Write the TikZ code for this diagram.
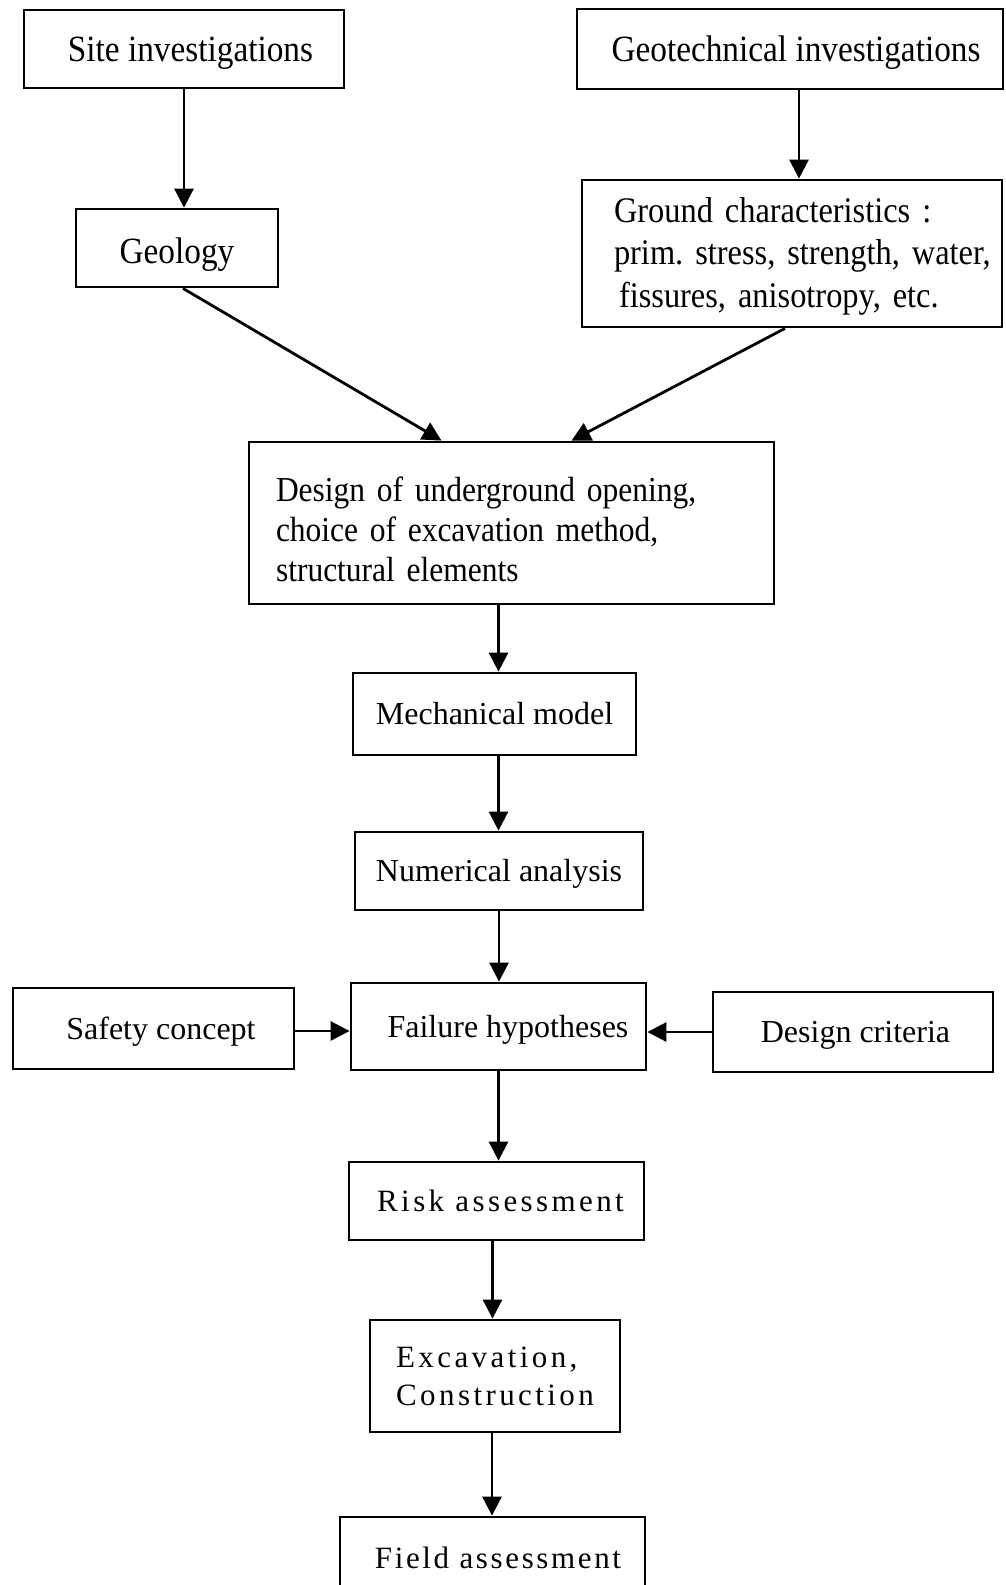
\documentclass[tikz,border=0pt]{standalone}
\usepackage{fontspec}
\setmainfont{Liberation Serif}
\newfontfamily\condfont{Liberation Serif}[FakeStretch=0.9]
\newfontfamily\spacedfont{Liberation Serif}[LetterSpace=11]
\usetikzlibrary{arrows.meta}

\tikzset{
  box/.style={draw, line width=2.8pt, inner sep=0pt, fill=white},
  oneline/.style={text height=#1, text depth=0pt},
  arr/.style={line width=2.8pt, -{Triangle[length=19pt,width=19pt]}},
  condtxt/.style={font=\condfont\fontsize{37}{44}\selectfont},
  condsmall/.style={font=\condfont\fontsize{36}{42.5}\selectfont},
  plaintxt/.style={font=\fontsize{32}{40}\selectfont},
  spacedtxt/.style={font=\spacedfont\fontsize{31}{38}\selectfont},
}

\begin{document}
\frenchspacing
\begin{tikzpicture}[x=1pt,y=-1pt]
\fill[white] (0,0) rectangle (1005,1585);
\useasboundingbox (0,0) rectangle (1005,1585);

% investigations
\node[box, condtxt, oneline=25.5pt, minimum width=320pt, minimum height=78pt]
  (site) at (184,49) {\hspace*{13pt}Site investigations};
\node[box, condtxt, oneline=25.5pt, minimum width=426pt, minimum height=80pt]
  (geo) at (790,49) {\hspace*{12pt}Geotechnical investigations};

% ground data
\node[box, condtxt, oneline=30pt, minimum width=202pt, minimum height=78pt]
  (geol) at (177,248) {Geology};
\node[box, condsmall, align=left, text width=356pt, minimum width=420pt, minimum height=147pt]
  (ground) at (792,253.5)
  {\rule{0pt}{30pt}Ground characteristics :\\
   \mbox{prim. stress, strength, water,}\\
   \hspace*{5pt}fissures, anisotropy, etc.};

% design
\node[box, font=\condfont\fontsize{35}{40}\selectfont, align=left, text width=471pt,
      minimum width=525pt, minimum height=162pt]
  (design) at (511.5,523)
  {\rule{0pt}{38pt}Design of underground opening,\\
   choice of excavation method,\\
   structural elements};

% analysis chain
\node[box, plaintxt, oneline=21pt, minimum width=283pt, minimum height=82pt]
  (mech) at (494.5,714) {Mechanical model};
\node[box, plaintxt, oneline=21pt, minimum width=288pt, minimum height=78pt]
  (num) at (499,871) {Numerical analysis};
\node[box, plaintxt, oneline=21pt, minimum width=295pt, minimum height=87pt]
  (fail) at (498.5,1026.5) {\hspace*{19pt}Failure hypotheses};
\node[box, plaintxt, oneline=21pt, minimum width=281pt, minimum height=81pt]
  (safety) at (153.5,1028.5) {\hspace*{15pt}Safety concept};
\node[box, plaintxt, oneline=21pt, minimum width=280pt, minimum height=80pt]
  (crit) at (853,1032) {\hspace*{5pt}Design criteria};

% execution
\node[box, spacedtxt, oneline=20pt, minimum width=295pt, minimum height=78pt]
  (risk) at (496.5,1201) {\hspace*{8pt}Risk assessment};
\node[box, spacedtxt, align=left, minimum width=250pt, minimum height=112pt]
  (exc) at (495,1376) {Excavation,\\Construction};
\node[box, spacedtxt, oneline=20pt, minimum width=305pt, minimum height=82pt]
  (field) at (492.5,1558) {\hspace*{11pt}\addfontfeature{LetterSpace=8.5}Field assessment};

% connectors
\draw[arr] (site.south) -- (site.south |- geol.north);
\draw[arr] ([xshift=9pt]geo.south) -- ([xshift=9pt]geo.south |- ground.north);
\draw[arr] ([xshift=6pt]geol.south) -- ([xshift=-70pt]design.north);
\draw[arr] ([xshift=-7pt]ground.south) -- ([xshift=60pt]design.north);
\draw[arr] ([xshift=4pt]mech.north |- design.south) -- ([xshift=4pt]mech.north);
\draw[arr] ([xshift=4pt]mech.south) -- ([xshift=4pt]mech.south |- num.north);
\draw[arr] (num.south) -- (num.south |- fail.north);
\draw[arr] ([yshift=-2.5pt]safety.east) -- ([yshift=-2.5pt]safety.east -| fail.west);
\draw[arr] (crit.west) -- (crit.west -| fail.east);
\draw[arr] (fail.south) -- (fail.south |- risk.north);
\draw[arr] ([xshift=-4pt]risk.south) -- ([xshift=-4pt]risk.south |- exc.north);
\draw[arr] ([xshift=-3pt]exc.south) -- ([xshift=-3pt]exc.south |- field.north);
\end{tikzpicture}
\end{document}
